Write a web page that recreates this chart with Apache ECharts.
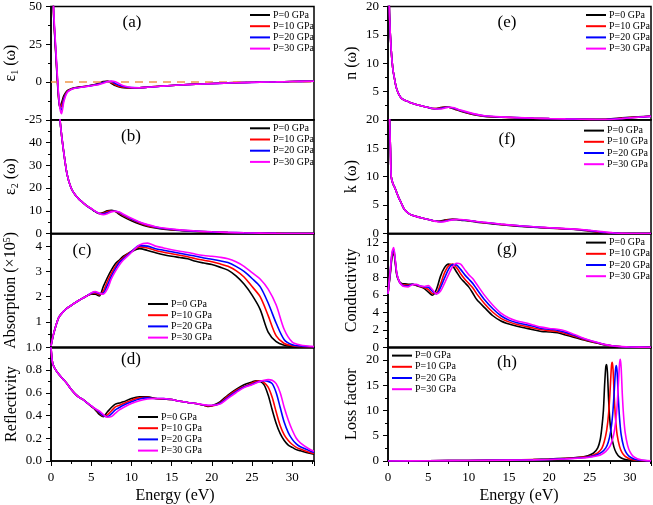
<!DOCTYPE html>
<html><head><meta charset="utf-8">
<script src="https://cdn.jsdelivr.net/npm/echarts@6/dist/echarts.min.js"></script>
<style>html,body{margin:0;padding:0;background:#fff}#c{width:653px;height:505px}</style>
</head><body><div id="c"></div>
<script>
const seriesNames = ['P=0 GPa','P=10 GPa','P=20 GPa','P=30 GPa'];
const seriesColors = ['#000000','#ff0000','#0000ff','#ff00ff'];
const panelLabels = ['(a)','(b)','(c)','(d)','(e)','(f)','(g)','(h)'];
const xTickLabels = [0,5,10,15,20,25,30];
const xTitle = 'Energy (eV)';

// (a) epsilon_1
const eA = [0,0.3,0.6,0.9,1.1,1.3,1.6,2,2.5,3,4,5,6,6.5,7,7.5,8,8.5,9,10,11,12,14,16,18,20,22,24,26,28,30,32.7];
const eps1_P0 = [120,48,18,-8,-16.5,-14,-9,-5.8,-4.5,-3.8,-3,-2.2,-0.8,0.3,0.5,-0.8,-2.4,-3.3,-3.8,-4,-3.8,-3.4,-2.6,-2,-1.4,-1,-0.6,-0.3,-0.1,0.1,0.3,0.5];
const eps1_P10 = [120,49,19,-7,-17,-16,-10.5,-6.3,-4.7,-3.9,-3.1,-2.3,-1.1,-0.1,0.5,-0.3,-1.8,-2.9,-3.5,-3.9,-3.8,-3.4,-2.6,-2,-1.4,-1,-0.6,-0.3,-0.1,0.1,0.3,0.5];
const eps1_P20 = [120,50,20,-6,-17,-18.5,-11.5,-6.7,-4.9,-4,-3.2,-2.4,-1.4,-0.4,0.3,0.3,-1,-2.2,-3,-3.7,-3.8,-3.5,-2.7,-2,-1.5,-1.1,-0.7,-0.4,-0.1,0.1,0.3,0.5];
const eps1_P30 = [120,52,22,-5,-17,-21,-13,-7,-5,-4.2,-3.3,-2.5,-1.6,-0.8,0.1,0.6,0.2,-1.2,-2.5,-3.6,-3.8,-3.5,-2.7,-2,-1.5,-1.1,-0.7,-0.4,-0.1,0.1,0.3,0.5];

// (b) epsilon_2
const eB = [0.5,0.8,1,1.2,1.5,2,2.5,3,3.5,4,4.5,5,5.5,6,6.5,7,7.5,8,8.5,9,10,11,12,13,14,16,18,20,22,24,26,28,30,32.7];
const eps2_P0 = [150,75,56,47,38,26,20,17,15,13.5,12,10.8,9.6,8.8,9.2,10,10.2,9.6,8.4,7.3,5.6,4.2,3.1,2.4,1.9,1.3,0.9,0.6,0.4,0.25,0.1,0.03,0,0];
const eps2_P10 = [150,75,56,47,38,26,20,17,15,13.5,12,10.9,9.7,8.8,8.9,9.6,10,9.8,8.9,7.9,6.1,4.6,3.4,2.6,2.1,1.4,1.0,0.65,0.43,0.27,0.12,0.04,0,0];
const eps2_P20 = [150,75,56,47,38,26,20,17,15,13.5,12,10.9,9.7,8.8,8.6,9.1,9.8,9.8,9.2,8.2,6.4,4.9,3.7,2.8,2.2,1.5,1.05,0.7,0.47,0.28,0.13,0.04,0,0];
const eps2_P30 = [150,75,56,47,38,26,20,17,15,13.5,12,11,9.8,8.8,8.3,8.7,9.5,9.8,9.4,8.5,6.7,5.1,3.9,3.0,2.4,1.6,1.1,0.75,0.5,0.3,0.15,0.05,0,0];

// (c) absorption (x10^5)
const eC = [0,0.3,0.7,1,1.5,2,2.5,3,3.5,4,4.5,5,5.5,6,6.5,7,7.5,8,8.5,9,10,11,12,13,14,15,16,17,18,19,20,21,22,23,24,25,26,27,28,29,30,31,32.7];
const abs_P0 = [0.05,0.5,0.95,1.2,1.4,1.55,1.65,1.76,1.86,1.95,2.04,2.1,2.1,2.03,2.4,2.75,3.05,3.3,3.45,3.6,3.78,3.9,3.83,3.74,3.66,3.6,3.55,3.5,3.4,3.33,3.27,3.17,3.05,2.82,2.5,2.06,1.5,0.6,0.22,0.08,0.04,0.02,0.01];
const abs_P10 = [0.05,0.5,0.95,1.2,1.4,1.55,1.65,1.76,1.86,1.95,2.04,2.12,2.15,2.08,2.22,2.6,2.92,3.2,3.4,3.55,3.8,3.97,3.93,3.83,3.76,3.7,3.64,3.58,3.5,3.44,3.38,3.3,3.2,3.03,2.78,2.4,2.0,1.25,0.45,0.15,0.06,0.03,0.01];
const abs_P20 = [0.05,0.5,0.95,1.2,1.4,1.55,1.65,1.76,1.86,1.95,2.04,2.14,2.18,2.12,2.14,2.45,2.8,3.1,3.35,3.5,3.78,4.02,4.0,3.9,3.84,3.78,3.72,3.66,3.6,3.53,3.48,3.42,3.35,3.2,3.0,2.72,2.4,1.75,0.95,0.3,0.1,0.05,0.02];
const abs_P30 = [0.05,0.5,0.95,1.2,1.4,1.55,1.65,1.76,1.86,1.95,2.04,2.15,2.2,2.15,2.1,2.3,2.7,3.0,3.25,3.45,3.75,4.05,4.12,4.0,3.93,3.86,3.8,3.75,3.68,3.63,3.6,3.56,3.5,3.38,3.2,2.95,2.7,2.3,1.67,0.7,0.2,0.09,0.03];

// (d) reflectivity
const eD = [0,0.2,0.5,1,1.5,2,2.5,3,3.5,4,4.5,5,5.5,6,6.5,7,7.5,8,8.5,9,10,11,12,13,14,15,16,17,18,19,19.5,20,21,22,23,24,25,25.5,26,26.5,27,27.5,28,28.5,29,29.5,30,30.5,31,32,32.7];
const refl_P0 = [1.0,0.86,0.81,0.76,0.72,0.68,0.63,0.59,0.56,0.54,0.51,0.48,0.45,0.41,0.39,0.43,0.47,0.50,0.51,0.52,0.55,0.565,0.565,0.55,0.545,0.54,0.525,0.515,0.505,0.49,0.48,0.485,0.52,0.58,0.63,0.67,0.695,0.705,0.70,0.67,0.58,0.45,0.33,0.24,0.18,0.14,0.12,0.1,0.09,0.07,0.06];
const refl_P10 = [1.0,0.86,0.81,0.76,0.72,0.68,0.63,0.59,0.56,0.54,0.51,0.483,0.455,0.425,0.395,0.405,0.44,0.475,0.49,0.505,0.535,0.555,0.56,0.55,0.545,0.54,0.525,0.515,0.505,0.49,0.485,0.485,0.51,0.57,0.62,0.655,0.685,0.70,0.705,0.69,0.65,0.56,0.43,0.31,0.23,0.18,0.145,0.12,0.105,0.08,0.065];
const refl_P20 = [1.0,0.86,0.81,0.76,0.72,0.68,0.63,0.59,0.56,0.54,0.51,0.484,0.458,0.43,0.40,0.39,0.415,0.45,0.47,0.49,0.52,0.545,0.555,0.55,0.548,0.54,0.525,0.515,0.505,0.492,0.488,0.488,0.505,0.56,0.61,0.65,0.675,0.69,0.70,0.705,0.70,0.68,0.60,0.47,0.34,0.25,0.19,0.15,0.125,0.095,0.075];
const refl_P30 = [1.0,0.86,0.81,0.76,0.72,0.68,0.63,0.59,0.56,0.54,0.51,0.485,0.46,0.44,0.41,0.385,0.39,0.42,0.45,0.47,0.505,0.53,0.545,0.55,0.55,0.54,0.525,0.515,0.505,0.495,0.49,0.49,0.5,0.55,0.6,0.645,0.67,0.685,0.70,0.71,0.715,0.71,0.68,0.6,0.47,0.36,0.27,0.2,0.16,0.11,0.085];

// (e) refractive index n
const eE = [0,0.1,0.2,0.4,0.6,0.8,1,1.3,1.6,2,2.5,3,4,5,5.5,6,6.5,7,7.5,8,8.5,9,10,11,12,14,16,18,20,22,24,26,27,28,29,30,31,32.6];
const n_P0 = [40,25,18,12.2,9,7.3,5.8,4.6,3.9,3.5,3.2,2.9,2.5,2.15,2.0,2.0,2.15,2.25,2.2,2.0,1.75,1.5,1.1,0.8,0.6,0.45,0.35,0.25,0.18,0.12,0.08,0.06,0.1,0.22,0.33,0.42,0.5,0.65];
const n_P10 = [40,25,18,12.2,9,7.3,5.8,4.6,3.9,3.5,3.2,2.9,2.5,2.15,2.0,1.97,2.08,2.22,2.22,2.05,1.82,1.58,1.17,0.85,0.63,0.47,0.36,0.26,0.19,0.13,0.08,0.05,0.07,0.17,0.28,0.38,0.47,0.62];
const n_P20 = [40,25,18,12.2,9,7.3,5.8,4.6,3.9,3.5,3.2,2.9,2.5,2.15,2.0,1.94,2.0,2.15,2.22,2.1,1.88,1.64,1.24,0.9,0.67,0.48,0.37,0.27,0.2,0.14,0.09,0.05,0.05,0.12,0.23,0.34,0.44,0.6];
const n_P30 = [40,25,18,12.2,9,7.3,5.8,4.6,3.9,3.5,3.2,2.9,2.5,2.15,2.0,1.9,1.9,2.05,2.2,2.15,1.95,1.7,1.3,0.95,0.7,0.5,0.38,0.28,0.21,0.15,0.1,0.05,0.04,0.08,0.2,0.33,0.45,0.6];

// (f) extinction coefficient k
const eF = [0,0.1,0.2,0.3,0.4,0.6,0.8,1,1.3,1.6,2,2.5,3,4,5,5.5,6,6.5,7,7.5,8,8.5,9,10,11,12,14,16,18,20,22,24,25,26,27,28,29,30,32.6];
const k_P0 = [40,28,20,15,10,8.8,8.2,7.5,6.4,5.5,4.3,3.6,3.2,2.8,2.45,2.3,2.15,2.2,2.35,2.45,2.5,2.45,2.35,2.2,2.0,1.85,1.55,1.3,1.1,0.95,0.8,0.6,0.4,0.22,0.08,0.02,0,0,0];
const k_P10 = [40,28,20,15,10,8.8,8.2,7.5,6.4,5.5,4.3,3.6,3.2,2.8,2.45,2.3,2.15,2.12,2.25,2.4,2.48,2.47,2.4,2.25,2.05,1.9,1.6,1.35,1.13,0.98,0.82,0.64,0.46,0.28,0.13,0.04,0,0,0];
const k_P20 = [40,28,20,15,10,8.8,8.2,7.5,6.4,5.5,4.3,3.6,3.2,2.8,2.45,2.3,2.15,2.07,2.15,2.32,2.44,2.47,2.43,2.28,2.08,1.93,1.63,1.38,1.16,1.0,0.84,0.67,0.5,0.34,0.18,0.07,0.01,0,0];
const k_P30 = [40,28,20,15,10,8.8,8.2,7.5,6.4,5.5,4.3,3.6,3.2,2.8,2.45,2.3,2.12,2.02,2.08,2.25,2.4,2.46,2.45,2.3,2.1,1.95,1.65,1.4,1.18,1.02,0.86,0.7,0.55,0.4,0.25,0.1,0.02,0,0];

// (g) conductivity
const eG = [0,0.3,0.5,0.7,0.9,1.1,1.4,1.7,2,2.5,3,3.5,4,4.5,5,5.5,6,6.5,7,7.5,8,8.5,9,9.5,10,10.5,11,12,13,14,15,16,17,18,19,20,21,22,23,24,25,26,27,28,29,30,32.6];
const cond_P0 = [6.1,8.5,10.3,10.8,9.6,8.2,7.5,7.3,7.25,7.2,7.2,7.05,6.9,6.7,6.3,5.95,6.6,8.1,9.1,9.5,9.3,8.6,7.9,7.4,6.9,6.2,5.45,4.5,3.6,3.0,2.65,2.4,2.2,2.0,1.8,1.75,1.65,1.4,1.15,0.9,0.65,0.45,0.25,0.12,0.05,0.02,0];
const cond_P10 = [6.1,8.7,10.5,11.0,9.8,8.3,7.5,7.2,7.1,7.1,7.2,7.1,6.95,6.8,6.6,6.15,6.2,7.2,8.5,9.3,9.5,9.1,8.4,7.8,7.3,6.8,6.1,4.95,4.0,3.3,2.9,2.6,2.4,2.2,2.0,1.9,1.8,1.55,1.28,0.98,0.72,0.48,0.27,0.13,0.06,0.02,0];
const cond_P20 = [6.1,8.8,10.7,11.2,9.9,8.35,7.5,7.15,7.0,7.0,7.2,7.15,7.0,6.9,6.85,6.4,6.1,6.8,7.9,8.9,9.45,9.4,8.9,8.3,7.8,7.3,6.65,5.4,4.4,3.6,3.1,2.8,2.6,2.4,2.15,2.05,1.95,1.7,1.4,1.05,0.76,0.52,0.29,0.14,0.06,0.03,0];
const cond_P30 = [6.1,9.0,10.9,11.4,10.0,8.4,7.5,7.1,6.95,6.9,7.15,7.2,7.0,6.95,7.05,6.6,6.1,6.4,7.3,8.3,9.2,9.6,9.5,8.9,8.3,7.85,7.2,5.9,4.8,3.9,3.35,3.0,2.8,2.55,2.3,2.15,2.05,1.85,1.5,1.12,0.8,0.55,0.3,0.15,0.07,0.03,0];

// (h) loss factor (each pressure on its own energy grid)
const lossE_P0 = [0,5,10,15,18,20,22,23,24,24.5,25,25.5,26,26.3,26.5,26.7,26.85,27,27.1,27.2,27.35,27.5,27.7,28,28.3,28.7,29.2,30,31,32.6];
const loss_P0 = [0,0.05,0.1,0.2,0.3,0.4,0.55,0.65,0.8,0.95,1.2,1.6,2.6,4.2,6.5,10,15,18.7,19.1,17.5,12,8,5,2.8,1.6,0.8,0.4,0.15,0.05,0];
const lossE_P10 = [0,5,10,15,18,20,22,23,24,25,25.5,26,26.5,26.8,27.1,27.35,27.55,27.7,27.8,27.9,28.05,28.2,28.4,28.7,29,29.4,29.9,30.5,31.5,32.6];
const loss_P10 = [0,0.05,0.1,0.2,0.28,0.35,0.5,0.6,0.72,0.95,1.2,1.6,2.5,3.8,6,9.5,14.5,18.8,19.5,18,12.5,8.5,5.2,2.9,1.7,0.9,0.45,0.2,0.06,0];
const lossE_P20 = [0,5,10,15,18,20,22,24,25,25.5,26,26.5,27,27.3,27.6,27.85,28.05,28.2,28.3,28.4,28.55,28.7,28.9,29.2,29.5,29.9,30.4,31,31.8,32.6];
const loss_P20 = [0,0.05,0.1,0.18,0.25,0.32,0.45,0.65,0.85,1.0,1.3,1.75,2.6,3.7,5.8,9.2,14,18,18.9,17.6,12.5,8.5,5.2,2.9,1.7,0.9,0.45,0.2,0.07,0.02];
const lossE_P30 = [0,5,10,15,18,20,22,24,25,26,26.5,27,27.5,27.8,28.1,28.35,28.55,28.7,28.8,28.9,29.05,29.2,29.4,29.7,30,30.4,30.9,31.5,32.1,32.6];
const loss_P30 = [0,0.05,0.1,0.17,0.22,0.3,0.42,0.6,0.75,1.05,1.35,1.9,2.9,4.1,6.3,9.8,15,19.2,20.1,18.5,13,9,5.6,3.1,1.8,0.9,0.45,0.2,0.08,0.03];

const FONT = 'Liberation Serif';
const panels = [
  {col:0,row:0,xs:[eA,eA,eA,eA],ys:[eps1_P0,eps1_P10,eps1_P20,eps1_P30],min:-25,max:50,interval:25,name:'{a|ε}{s|1}{a| (ω)}',showMin:true,showMax:true,legend:[250,9.4],label:[132,23],zero:true},
  {col:0,row:1,xs:[eB,eB,eB,eB],ys:[eps2_P0,eps2_P10,eps2_P20,eps2_P30],min:0,max:50,interval:10,name:'{a|ε}{s|2}{a| (ω)}',showMin:true,showMax:false,legend:[250,122.7],label:[131,137]},
  {col:0,row:2,xs:[eC,eC,eC,eC],ys:[abs_P0,abs_P10,abs_P20,abs_P30],min:0,max:4.5,interval:1,name:'{a|Absorption (×10}{p|5}{a|)}',showMin:false,showMax:false,legend:[148,298.4],label:[82,251]},
  {col:0,row:3,xs:[eD,eD,eD,eD],ys:[refl_P0,refl_P10,refl_P20,refl_P30],min:0,max:1,interval:0.2,name:'{a|Reflectivity}',showMin:true,showMax:true,legend:[138,411.4],label:[131,360],fixed:1},
  {col:1,row:0,xs:[eE,eE,eE,eE],ys:[n_P0,n_P10,n_P20,n_P30],min:0,max:20,interval:5,name:'{a|n (ω)}',showMin:false,showMax:true,legend:[586,9.4],label:[507,23]},
  {col:1,row:1,xs:[eF,eF,eF,eF],ys:[k_P0,k_P10,k_P20,k_P30],min:0,max:20,interval:5,name:'{a|k (ω)}',showMin:true,showMax:true,legend:[584,125],label:[507,140]},
  {col:1,row:2,xs:[eG,eG,eG,eG],ys:[cond_P0,cond_P10,cond_P20,cond_P30],min:0,max:13,interval:2,name:'{a|Conductivity}',showMin:true,showMax:false,legend:[586,237],label:[507,250]},
  {col:1,row:3,xs:[lossE_P0,lossE_P10,lossE_P20,lossE_P30],ys:[loss_P0,loss_P10,loss_P20,loss_P30],min:0,max:22.5,interval:5,name:'{a|Loss factor}',showMin:true,showMax:false,legend:[392,350],label:[507,363]}
];

const colLeft = [51, 388];
const colMax = [32.7, 32.6];
const xTitleCenter = [175, 519];
const plotW = 263, plotTop = 6, plotH = 113.75;
const black = '#000';
const richText = {
  a: {fontFamily: FONT, fontSize: 16, color: black, fontWeight: 'normal'},
  s: {fontFamily: FONT, fontSize: 10, color: black, fontWeight: 'normal', verticalAlign: 'bottom', padding: [8, 0, 0, 0]},
  p: {fontFamily: FONT, fontSize: 10, color: black, fontWeight: 'normal', verticalAlign: 'top', padding: [0, 0, 8, 0]}
};

const grid = [], xAxis = [], yAxis = [], series = [], legend = [], graphic = [];
panels.forEach((p, i) => {
  const bottom = p.row === 3;
  grid.push({left: colLeft[p.col], top: plotTop + p.row * plotH, width: plotW, height: plotH,
    show: true, borderColor: black, borderWidth: 1.5, backgroundColor: 'transparent', containLabel: false});
  xAxis.push({type: 'value', gridIndex: i, min: 0, max: colMax[p.col], interval: 5,
    axisLine: {show: true, onZero: false, lineStyle: {color: black, width: 1.5}},
    axisTick: {show: bottom, inside: false, length: 5, lineStyle: {color: black, width: 1}},
    minorTick: {show: bottom, splitNumber: 2, length: 3, lineStyle: {color: black, width: 1}},
    splitLine: {show: false},
    axisLabel: {show: bottom, color: black, fontFamily: FONT, fontSize: 13, margin: 10, showMaxLabel: false,
      formatter: v => (xTickLabels.indexOf(v) >= 0 ? String(v) : '')}
  });
  yAxis.push({type: 'value', gridIndex: i, min: p.min, max: p.max, interval: p.interval,
    axisLine: {show: true, onZero: false, lineStyle: {color: black, width: 1.5}},
    axisTick: {show: true, inside: false, length: 5, lineStyle: {color: black, width: 1}},
    minorTick: {show: true, splitNumber: 2, length: 3, lineStyle: {color: black, width: 1}},
    splitLine: {show: false},
    axisLabel: {color: black, fontFamily: FONT, fontSize: 13, margin: 9,
      showMinLabel: p.showMin, showMaxLabel: p.showMax,
      formatter: v => p.fixed ? v.toFixed(p.fixed) : String(v)},
    name: p.name, nameLocation: 'middle', nameGap: p.col === 0 ? 31 : 28, nameRotate: 90,
    nameTextStyle: {color: black, fontFamily: FONT, fontSize: 16, fontWeight: 'normal', rich: richText}
  });
  for (let s = 0; s < 4; s++) {
    const data = p.xs[s].map((x, j) => [x, p.ys[s][j]]);
    const ser = {type: 'line', name: seriesNames[s], xAxisIndex: i, yAxisIndex: i, data,
      symbol: 'none', smooth: 0.3, clip: true, animation: false,
      lineStyle: {color: seriesColors[s], width: 1.6}, itemStyle: {color: seriesColors[s]}, z: 3 + s};
    if (p.zero && s === 0) {
      ser.markLine = {silent: true, symbol: 'none', animation: false, label: {show: false},
        lineStyle: {color: '#f0964a', type: [8, 6], width: 1.5}, data: [{yAxis: 0}]};
    }
    series.push(ser);
  }
  legend.push({orient: 'vertical', left: p.legend[0], top: p.legend[1], padding: 0, itemGap: 0,
    icon: 'rect', itemWidth: 20, itemHeight: 2, data: seriesNames, selectedMode: false,
    textStyle: {color: black, fontFamily: FONT, fontSize: 10, lineHeight: 11.2, padding: [0, 0, 0, -2]}});
  graphic.push({type: 'text', x: p.label[0], y: p.label[1], z: 10,
    style: {text: panelLabels[i], fill: black, fontFamily: FONT, fontSize: 17,
      align: 'center', verticalAlign: 'middle', textAlign: 'center', textVerticalAlign: 'middle'}});
  if (bottom) {
    graphic.push({type: 'text', x: xTitleCenter[p.col], y: 496, z: 10,
      style: {text: xTitle, fill: black, fontFamily: FONT, fontSize: 16, fontWeight: 'normal',
        align: 'center', verticalAlign: 'middle', textAlign: 'center', textVerticalAlign: 'middle'}});
  }
});

const chart = echarts.init(document.getElementById('c'));
chart.setOption({animation: false, backgroundColor: '#fff', grid, xAxis, yAxis, series, legend, graphic});
</script></body></html>
